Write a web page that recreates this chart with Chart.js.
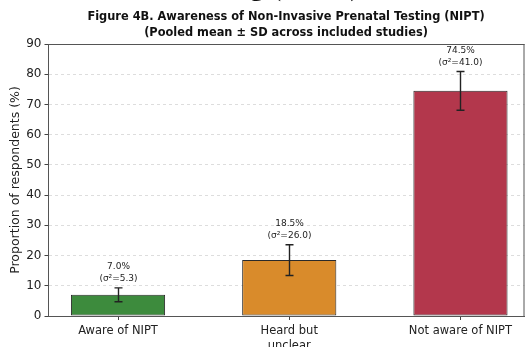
<!DOCTYPE html>
<html>
<head>
<meta charset="utf-8">
<script src="https://cdn.jsdelivr.net/npm/chart.js@4/dist/chart.umd.min.js"></script>
<style>
  html, body { margin: 0; padding: 0; background: #fff; }
  #wrap { width: 529px; height: 347px; position: relative; }
</style>
</head>
<body>
<div id="wrap"><canvas id="c"></canvas></div>
<script>
// Awareness categories and pooled estimates
const categories = ['Aware of NIPT', ['Heard but', 'unclear'], 'Not aware of NIPT'];
const pooledMean = [7.0, 18.5, 74.5];      // %
const pooledVariance = [5.3, 26.0, 41.0];  // sigma squared
const yTicks = [0, 10, 20, 30, 40, 50, 60, 70, 80, 90];
const barColors = ['#3d8b3d', '#d98b2b', '#b3374c'];

const FONT = "'DejaVu Sans', sans-serif";

// Error bars (mean ± SD) and value labels above them
const errorBarPlugin = {
  id: 'errorBars',
  afterDatasetsDraw(chart) {
    const ctx = chart.ctx;
    const xs = chart.scales.x, ys = chart.scales.y;
    ctx.save();
    pooledMean.forEach((m, i) => {
      const sd = Math.sqrt(pooledVariance[i]);
      const px = Math.round(xs.getPixelForValue(i)) + 0.5;
      const top = ys.getPixelForValue(m + sd);
      const bot = ys.getPixelForValue(m - sd);
      ctx.strokeStyle = '#222';
      ctx.lineWidth = 1.4;
      ctx.beginPath();
      ctx.moveTo(px, top); ctx.lineTo(px, bot);
      ctx.moveTo(px - 4, top); ctx.lineTo(px + 4, top);
      ctx.moveTo(px - 4, bot); ctx.lineTo(px + 4, bot);
      ctx.stroke();
      ctx.fillStyle = '#222';
      ctx.font = '9px ' + FONT;
      ctx.textAlign = 'center';
      ctx.textBaseline = 'middle';
      ctx.fillText(m.toFixed(1) + '%', px, top - 21);
      ctx.fillText('(σ²=' + pooledVariance[i].toFixed(1) + ')', px, top - 9);
    });
    ctx.restore();
  }
};

// Full frame around the plot area and the figure headings
const framePlugin = {
  id: 'frame',
  afterDraw(chart) {
    const ctx = chart.ctx, a = chart.chartArea;
    ctx.save();
    ctx.strokeStyle = '#555';
    ctx.lineWidth = 1;
    ctx.beginPath();
    ctx.moveTo(a.left, a.top + 0.5); ctx.lineTo(a.right, a.top + 0.5);
    ctx.moveTo(a.right - 0.5, a.top); ctx.lineTo(a.right - 0.5, a.bottom);
    ctx.stroke();

    ctx.fillStyle = '#111';
    ctx.textAlign = 'center';
    ctx.textBaseline = 'middle';
    ctx.font = 'bold 11.4px ' + FONT;
    ctx.fillText('Figure 4B. Awareness of Non-Invasive Prenatal Testing (NIPT)', 286, 17);
    ctx.fillText('(Pooled mean ± SD across included studies)', 286, 33);

    ctx.font = 'bold 29px "Liberation Serif", serif';
    ctx.textAlign = 'right';
    ctx.textBaseline = 'alphabetic';
    ctx.fillText('Prenatal Testing (NIPT)', 360, -5);
    ctx.restore();
  }
};

new Chart(document.getElementById('c'), {
  type: 'bar',
  data: {
    datasets: [{
      data: pooledMean.map((v, i) => ({ x: i, y: v })),
      backgroundColor: barColors,
      borderColor: '#2a2a2a',
      borderWidth: 1,
      borderSkipped: false,
      barPercentage: 0.55,
      categoryPercentage: 1.0
    }]
  },
  options: {
    responsive: true,
    maintainAspectRatio: false,
    animation: false,
    devicePixelRatio: 1,
    layout: { padding: { top: 44, right: 4.5, left: 0, bottom: 0 } },
    plugins: { legend: { display: false }, tooltip: { enabled: false }, title: { display: false } },
    scales: {
      x: {
        type: 'linear',
        offset: false,
        min: -0.406,
        max: 2.374,
        afterBuildTicks: s => { s.ticks = categories.map((c, i) => ({ value: i })); },
        afterFit: s => { s.height = 31; },
        ticks: {
          callback: (v) => categories[v],
          color: '#222',
          font: { family: FONT, size: 11.5, lineHeight: 1.25 },
          padding: 4,
          maxRotation: 0,
          autoSkip: false
        },
        grid: { offset: false, drawOnChartArea: false, drawTicks: true, tickLength: 4, tickColor: '#444' },
        border: { color: '#555', width: 1 }
      },
      y: {
        min: 0,
        max: 90,
        afterBuildTicks: s => { s.ticks = yTicks.map(v => ({ value: v })); },
        afterFit: s => { s.width = 48.5; },
        ticks: { color: '#222', font: { family: FONT, size: 12 }, padding: 3 },
        grid: { color: '#dddddd', lineWidth: 1, tickLength: 4, tickColor: '#444', tickBorderDash: [] },
        border: { color: '#555', width: 1, dash: [3, 3] },
        title: {
          display: true,
          text: 'Proportion of respondents (%)',
          color: '#222',
          font: { family: FONT, size: 12.5 },
          padding: { top: 8, bottom: 0 }
        }
      }
    }
  },
  plugins: [errorBarPlugin, framePlugin]
});
</script>
</body>
</html>
